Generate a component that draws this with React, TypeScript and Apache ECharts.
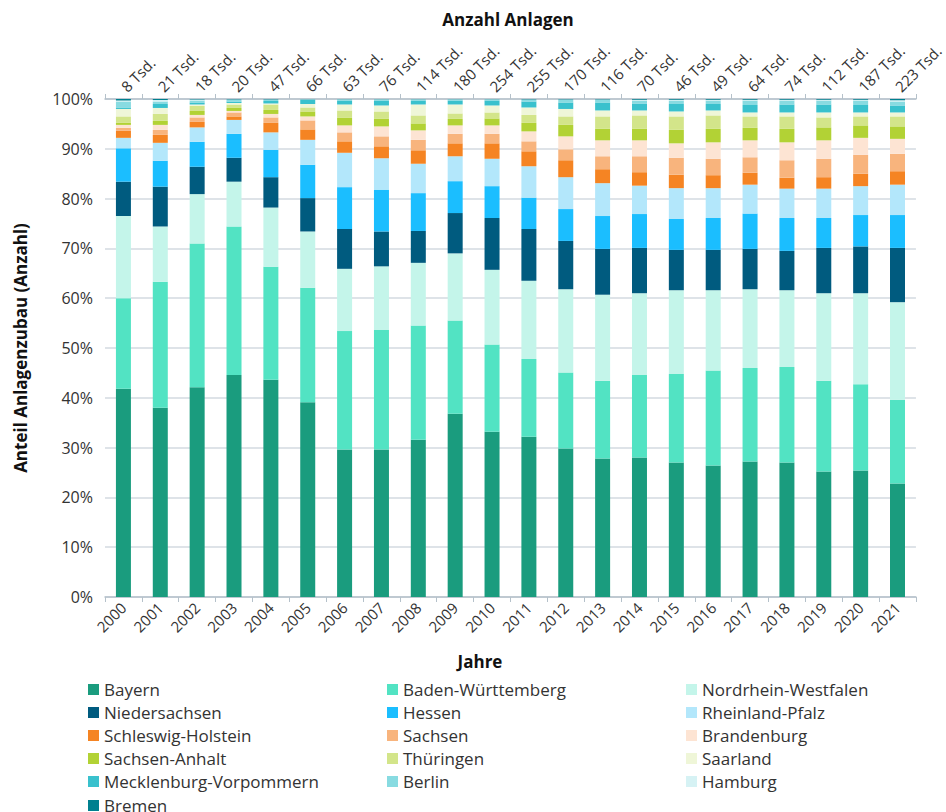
import React, { useEffect, useRef } from "react";
import * as echarts from "echarts";

const years = ["2000","2001","2002","2003","2004","2005","2006","2007","2008","2009","2010","2011","2012","2013","2014","2015","2016","2017","2018","2019","2020","2021"];
const anlagenLabels = ["8 Tsd.","21 Tsd.","18 Tsd.","20 Tsd.","47 Tsd.","66 Tsd.","63 Tsd.","76 Tsd.","114 Tsd.","180 Tsd.","254 Tsd.","255 Tsd.","170 Tsd.","116 Tsd.","70 Tsd.","46 Tsd.","49 Tsd.","64 Tsd.","74 Tsd.","112 Tsd.","187 Tsd.","223 Tsd."];

const bayern = [41.8,38.0,42.1,44.6,43.6,39.1,29.6,29.6,31.6,36.8,33.2,32.2,29.8,27.8,28.0,27.0,26.4,27.2,27.0,25.2,25.4,22.8];
const badenWuerttemberg = [18.2,25.3,28.9,29.8,22.7,23.0,23.8,24.0,22.9,18.7,17.5,15.6,15.3,15.6,16.6,17.8,19.1,18.8,19.2,18.2,17.3,16.8];
const nordrheinWestfalen = [16.5,11.1,9.9,9.0,11.9,11.3,12.5,12.8,12.6,13.5,15.0,15.7,16.7,17.3,16.4,16.8,16.1,15.8,15.4,17.6,18.3,19.6];
const niedersachsen = [6.9,8.0,5.5,4.8,6.1,6.7,8.0,7.0,6.4,8.1,10.4,10.4,9.7,9.2,9.1,8.1,8.1,8.1,7.9,9.1,9.4,10.9];
const hessen = [6.7,5.2,5.0,4.8,5.5,6.7,8.4,8.4,7.6,6.4,6.4,6.3,6.4,6.6,6.8,6.2,6.4,7.1,6.6,6.0,6.3,6.6];
const rheinlandPfalz = [2.1,3.6,2.9,2.8,3.5,5.0,6.9,6.3,5.9,5.0,5.5,6.3,6.4,6.6,5.7,6.2,6.0,5.8,5.9,5.9,5.8,6.1];
const schleswigHolstein = [1.4,1.6,1.1,0.7,1.9,2.1,2.3,2.4,2.7,2.6,3.1,3.0,3.4,2.8,2.7,2.7,2.6,2.4,2.2,2.3,2.5,2.7];
const sachsen = [0.6,1.0,0.9,0.8,1.1,1.8,1.8,2.0,2.1,1.9,1.9,2.0,2.2,2.6,3.2,3.4,3.3,3.1,3.5,3.7,3.8,3.5];
const brandenburg = [0.6,1.0,0.5,0.3,0.7,0.8,1.4,2.0,1.9,1.7,1.7,2.0,2.6,3.2,3.2,2.9,3.3,3.4,3.6,3.7,3.4,3.0];
const sachsenAnhalt = [0.4,0.8,0.8,0.6,0.8,1.0,1.5,1.5,1.4,1.3,1.4,1.7,2.3,2.3,2.3,2.7,2.7,2.5,2.7,2.6,2.5,2.5];
const thueringen = [1.3,1.4,1.0,0.7,1.1,0.8,1.5,1.5,1.6,1.1,1.2,1.6,1.7,2.5,2.7,2.7,2.7,2.3,2.5,2.0,1.8,2.0];
const saarland = [1.5,1.2,0.3,0.3,0.2,0.7,1.2,1.2,2.2,1.8,1.4,1.5,1.5,1.2,1.0,1.0,1.0,0.8,0.8,1.0,0.8,0.8];
const mecklenburgVorpommern = [0.3,0.8,0.4,0.3,0.5,0.8,0.8,1.0,0.8,0.8,1.0,1.2,1.3,1.6,1.4,1.5,1.3,1.5,1.6,1.6,1.5,1.4];
const berlin = [1.2,0.5,0.4,0.3,0.2,0.1,0.2,0.2,0.2,0.2,0.2,0.3,0.5,0.5,0.6,0.7,0.7,0.9,0.8,0.8,0.9,0.8];
const hamburg = [0.2,0.3,0.2,0.1,0.1,0.05,0.05,0.05,0.05,0.05,0.05,0.1,0.1,0.1,0.15,0.15,0.15,0.15,0.15,0.15,0.15,0.25];
const bremen = [0.3,0.2,0.1,0.1,0.1,0.05,0.05,0.05,0.05,0.05,0.05,0.1,0.1,0.1,0.15,0.15,0.15,0.15,0.15,0.15,0.15,0.25];

const seriesDefs = [
  { name: "Bayern", data: bayern, color: "#1a9c7e" },
  { name: "Baden-Württemberg", data: badenWuerttemberg, color: "#52e3c3" },
  { name: "Nordrhein-Westfalen", data: nordrheinWestfalen, color: "#c4f5ea" },
  { name: "Niedersachsen", data: niedersachsen, color: "#005b7f" },
  { name: "Hessen", data: hessen, color: "#1bbeff" },
  { name: "Rheinland-Pfalz", data: rheinlandPfalz, color: "#b3e7fb" },
  { name: "Schleswig-Holstein", data: schleswigHolstein, color: "#f58423" },
  { name: "Sachsen", data: sachsen, color: "#f8b47d" },
  { name: "Brandenburg", data: brandenburg, color: "#fde4d3" },
  { name: "Sachsen-Anhalt", data: sachsenAnhalt, color: "#b2d235" },
  { name: "Thüringen", data: thueringen, color: "#d3e58a" },
  { name: "Saarland", data: saarland, color: "#eff6d8" },
  { name: "Mecklenburg-Vorpommern", data: mecklenburgVorpommern, color: "#39c1cd" },
  { name: "Berlin", data: berlin, color: "#88dbe1" },
  { name: "Hamburg", data: hamburg, color: "#d6f2f4" },
  { name: "Bremen", data: bremen, color: "#00808f" },
];

const legendCol1 = ["Bayern", "Niedersachsen", "Schleswig-Holstein", "Sachsen-Anhalt", "Mecklenburg-Vorpommern"];
const legendCol1Last = ["Bremen"];
const legendCol2 = ["Baden-Württemberg", "Hessen", "Sachsen", "Thüringen", "Berlin"];
const legendCol3 = ["Nordrhein-Westfalen", "Rheinland-Pfalz", "Brandenburg", "Saarland", "Hamburg"];

const FONT = "'Open Sans', 'Noto Sans', sans-serif";
const TEXT = "#333333";

export default function App() {
  const ref = useRef<HTMLDivElement>(null);
  useEffect(() => {
    if (!ref.current) return;
    const chart = echarts.init(ref.current, undefined, { renderer: "svg" });
    const legendBase = {
      orient: "vertical",
      top: 681,
      icon: "rect",
      itemWidth: 11,
      itemHeight: 11,
      itemGap: 6,
      padding: 0,
      selectedMode: false,
      textStyle: { fontSize: 17, color: TEXT, fontFamily: FONT, lineHeight: 17 },
    };
    chart.setOption({
      animation: false,
      textStyle: { fontFamily: FONT },
      grid: { left: 105, right: 28, top: 99, bottom: 215, containLabel: false },
      legend: [
        { ...legendBase, left: 88, data: legendCol1 },
        {
          ...legendBase,
          left: 88,
          top: 797,
          data: legendCol1Last,
          textStyle: { fontSize: 17, color: TEXT, fontFamily: FONT, lineHeight: 14 },
        },
        { ...legendBase, left: 387, data: legendCol2 },
        { ...legendBase, left: 686, data: legendCol3 },
      ],
      graphic: [
        {
          type: "text",
          x: 508,
          y: 19,
          style: { text: "Anzahl Anlagen", align: "center", verticalAlign: "middle", fill: "#111", fontSize: 17, fontWeight: "bold", fontFamily: FONT },
        },
        {
          type: "text",
          x: 480,
          y: 661,
          style: { text: "Jahre", align: "center", verticalAlign: "middle", fill: "#111", fontSize: 17, fontWeight: "bold", fontFamily: FONT },
        },
      ],
      xAxis: [
        {
          type: "category",
          data: years,
          position: "bottom",
          axisLine: { lineStyle: { color: "#b5c1ca", width: 1.5 } },
          axisTick: { show: true, length: 5, lineStyle: { color: "#b5c1ca" } },
          axisLabel: { rotate: 45, fontSize: 15, color: TEXT, margin: 8, fontFamily: FONT },
        },
        {
          type: "category",
          data: anlagenLabels,
          position: "top",
          axisLine: { lineStyle: { color: "#b5c1ca", width: 1.5 } },
          axisTick: { show: true, length: 5, inside: false, lineStyle: { color: "#b5c1ca" } },
          axisLabel: { rotate: -45, fontSize: 15, color: TEXT, margin: 10, fontFamily: FONT },
        },
      ],
      yAxis: {
        type: "value",
        min: 0,
        max: 100,
        interval: 10,
        name: "Anteil Anlagenzubau (Anzahl)",
        nameLocation: "middle",
        nameGap: 76,
        nameTextStyle: { fontSize: 17, fontWeight: "bold", color: "#111", fontFamily: FONT },
        axisLine: { show: false },
        axisTick: { show: false },
        axisLabel: { formatter: "{value}%", fontSize: 16, color: TEXT, margin: 12, fontFamily: FONT },
        splitLine: { lineStyle: { color: "#d3dae0", width: 1.5 } },
      },
      series: seriesDefs.map((s) => ({
        name: s.name,
        type: "bar",
        stack: "total",
        xAxisIndex: 0,
        barWidth: 15,
        data: s.data,
        itemStyle: { color: s.color },
        emphasis: { disabled: true },
      })),
    });
    return () => chart.dispose();
  }, []);
  return <div ref={ref} style={{ position: "absolute", left: 0, top: 0, width: 946, height: 812 }} />;
}
